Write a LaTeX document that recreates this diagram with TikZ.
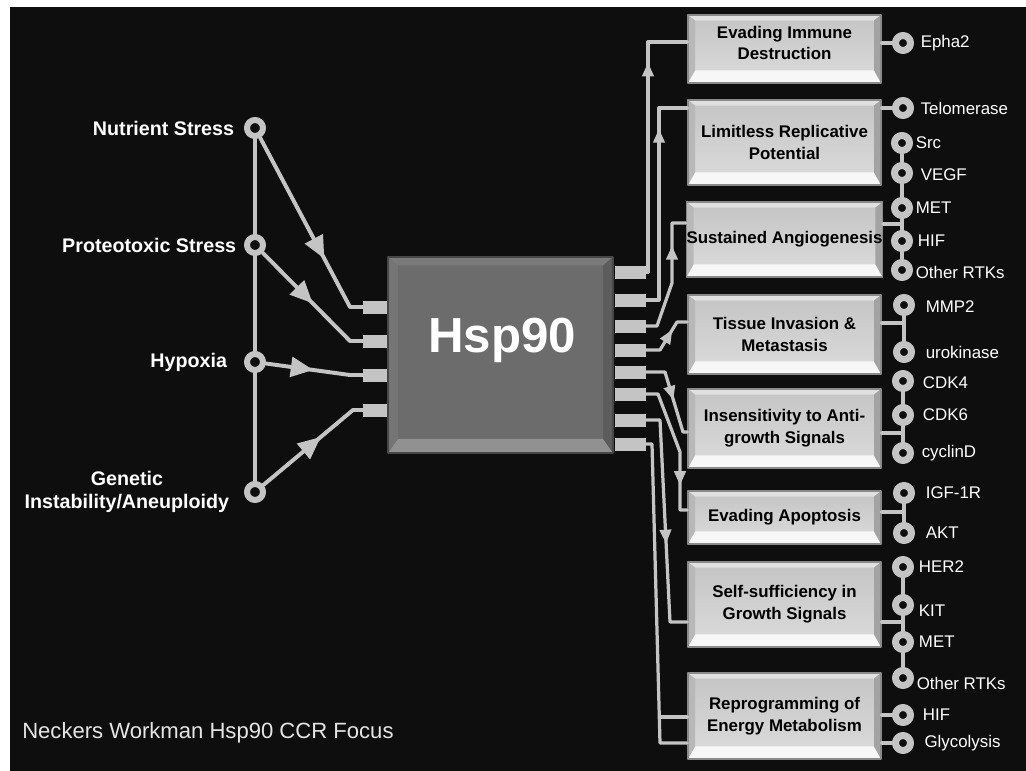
\documentclass[tikz,border=0pt]{standalone}
\usepackage{fontspec}
\setmainfont{Liberation Sans}
\usetikzlibrary{arrows.meta,decorations.markings}
\definecolor{bg}{HTML}{0E0E0E}
\definecolor{wirec}{HTML}{C4C4C4}
\definecolor{boxedge}{HTML}{8A8A8A}
\definecolor{facetop}{HTML}{C4C4C4}
\definecolor{facebot}{HTML}{DCDCDC}
\definecolor{chipc}{HTML}{6C6C6C}
\tikzset{
 hallmark/.style={draw=boxedge, line width=1pt, top color=facetop, bottom color=facebot,
  minimum width=4.825cm, inner sep=0pt, align=center, text=black,
  font=\fontsize{12}{15.5}\selectfont\bfseries,
  path picture={
   \path (path picture bounding box.north west) coordinate (q1)
    (path picture bounding box.north east) coordinate (q2)
    (path picture bounding box.south east) coordinate (q3)
    (path picture bounding box.south west) coordinate (q4);
   \fill[white!88!black] (q1) -- (q2) -- ([shift={(-5pt,-4pt)}]q2) -- ([shift={(5pt,-4pt)}]q1) -- cycle;
   \fill[white!97!black] (q4) -- (q3) -- ([shift={(-5pt,9pt)}]q3) -- ([shift={(5pt,9pt)}]q4) -- cycle;
   \fill[white!72!black] (q1) -- ([shift={(5pt,-4pt)}]q1) -- ([shift={(5pt,9pt)}]q4) -- (q4) -- cycle;
   \fill[white!64!black] (q2) -- ([shift={(-5pt,-4pt)}]q2) -- ([shift={(-5pt,9pt)}]q3) -- (q3) -- cycle;
  }},
 chip/.style={draw=black!72, line width=1pt, fill=chipc, inner sep=0pt,
  path picture={
   \path (path picture bounding box.north west) coordinate (q1)
    (path picture bounding box.north east) coordinate (q2)
    (path picture bounding box.south east) coordinate (q3)
    (path picture bounding box.south west) coordinate (q4);
   \fill[white!48!black] (q1) -- (q2) -- ([shift={(-7pt,-6pt)}]q2) -- ([shift={(7pt,-6pt)}]q1) -- cycle;
   \fill[white!57!black] (q4) -- (q3) -- ([shift={(-7pt,10pt)}]q3) -- ([shift={(7pt,10pt)}]q4) -- cycle;
   \fill[white!46!black] (q1) -- ([shift={(7pt,-6pt)}]q1) -- ([shift={(7pt,10pt)}]q4) -- (q4) -- cycle;
   \fill[white!36!black] (q2) -- ([shift={(-7pt,-6pt)}]q2) -- ([shift={(-7pt,10pt)}]q3) -- (q3) -- cycle;
  }}
}
\begin{document}
\begin{tikzpicture}[x=0.025cm, y=-0.025cm, line join=round, line cap=round,
 wire/.style={color=wirec, line width=2.3pt},
 lwire/.style={color=wirec, line width=2.8pt},
 arr/.style={postaction={decorate, decoration={markings, mark=at position #1 with {\arrow{Triangle[length=10pt, width=8pt]}}}}},
 bigarr/.style={postaction={decorate, decoration={markings, mark=at position #1 with {\arrow{Triangle[length=16pt, width=14pt]}}}}},
 ring/.style={circle, draw=wirec, fill=bg, line width=5pt, minimum size=0.375cm, inner sep=0pt},
 bigring/.style={circle, draw=wirec, fill=bg, line width=4.3pt, minimum size=0.4cm, inner sep=0pt},
 pin/.style={fill=wirec, minimum height=0.325cm, inner sep=0pt},
 ltxt/.style={text=white, font=\fontsize{14}{16}\selectfont\bfseries, align=center},
 rtxt/.style={text=white, font=\fontsize{12}{14}\selectfont, inner sep=1pt}]
 \useasboundingbox (0,0) rectangle (1026,770);
 \fill[white] (0,0) rectangle (1026,770);
 \fill[bg] (10,7) rectangle (1040,790);

 \node[chip, minimum width=5.625cm, minimum height=4.9cm] (hsp) at (500.5,355) {};
 \node[anchor=base, text=white, font=\fontsize{35}{40}\selectfont\bfseries] (hsptxt) at (502,352) {Hsp90};
 \foreach \n/\y in {lpa/307, lpb/341, lpc/375, lpd/410}
  \node[pin, minimum width=0.6cm] (\n) at (375,\y) {};
 \foreach \n/\y in {rpa/272, rpb/300, rpc/326, rpd/350, rpe/372, rpf/394, rpg/420, rph/444}
  \node[pin, minimum width=0.775cm] (\n) at (630.5,\y) {};

 \node[bigring, label={[ltxt, label distance=3.5pt]left:Nutrient Stress}] (nut) at (255,128) {};
 \node[bigring, label={[ltxt, label distance=2pt]left:Proteotoxic Stress}] (prot) at (255,245) {};
 \node[bigring, label={[ltxt, label distance=8.5pt]left:Hypoxia}] (hyp) at (255,362) {};
 \node[bigring, label={[ltxt, label distance=7pt]left:Genetic\\Instability/Aneuploidy}] (gen) at (255,492) {};

 \node[hallmark, minimum height=1.7cm, text depth=8.6pt] (imm) at (784.5,49) {Evading Immune\\Destruction};
 \node[hallmark, minimum height=2.125cm] (lim) at (784.5,142.5) {Limitless Replicative\\Potential};
 \node[hallmark, minimum height=1.875cm] (ang) at (784.5,239.5) {Sustained Angiogenesis};
 \node[hallmark, minimum height=1.975cm] (inv) at (784.5,334.5) {Tissue Invasion \&\\Metastasis};
 \node[hallmark, minimum height=1.975cm] (ins) at (784.5,428.5) {Insensitivity to Anti-\\growth Signals};
 \node[hallmark, minimum height=1.325cm] (apo) at (784.5,517.5) {Evading Apoptosis};
 \node[hallmark, minimum height=2.125cm] (self) at (784.5,604.5) {Self-sufficiency in\\Growth Signals};
 \node[hallmark, minimum height=2.15cm] (ene) at (784.5,716) {Reprogramming of\\Energy Metabolism};

 \foreach \n/\x/\y/\t/\d/\v in {ep/903/43/Epha2/3.6pt/0pt, tel/903/108/Telomerase/3.6pt/0pt,
  src/902/143/Src/0.8pt/0pt, vegf/902/173/VEGF/4.3pt/-1.4pt, meta/902/208/MET/0.8pt/0pt,
  hifa/902/241/HIF/2.3pt/0pt, rtka/902/270/Other RTKs/0.8pt/-1.4pt,
  mmp/904/305/MMP2/6.5pt/-1.4pt, uro/904/352/urokinase/6.5pt/0pt,
  cdkf/903/381/CDK4/5.1pt/-1.4pt, cdks/903/415/CDK6/5.1pt/0pt, cyc/903/453/cyclinD/4.3pt/0pt,
  igf/904/493/IGF-1R/6.5pt/0pt, akt/904/533/AKT/6.5pt/0pt,
  her/903/567/HER2/2.3pt/0pt, kit/903/605/KIT/2.3pt/-4pt, metb/903/642/MET/2.3pt/0pt,
  rtkb/903/678/Other RTKs/0.8pt/-4pt, hifb/903/715/HIF/5.1pt/0pt, gly/903/743/Glycolysis/6.3pt/0pt}
  \node[ring, label={[rtxt, label distance=\d, yshift=\v]right:\t}] (\n) at (\x,\y) {};

 \node[anchor=base west, inner sep=0pt, text=white!90!black, font=\fontsize{15.7}{18}\selectfont] (credit) at (22,738) {Neckers Workman Hsp90 CCR Focus};

 \draw[lwire] (nut) -- (prot) -- (hyp) -- (gen);
 \draw[lwire, bigarr=0.67] (nut) -- (350,307) -- (lpa.west);
 \draw[lwire, bigarr=0.52] (prot) -- (350,341) -- (lpb.west);
 \draw[lwire, bigarr=0.49] (hyp) -- (350,375) -- (lpc.west);
 \draw[lwire, bigarr=0.59] (gen) -- (353,410) -- (lpd.west);

 \draw[wire, arr=0.78] (rpa.east) -- (648,272) -- (648,42) -- (imm.west |- 648,42);
 \draw[wire, arr=0.79] (rpb.east) -- (659,300) -- (659,108) -- (lim.west |- 659,108);
 \draw[wire, arr=0.72] (rpc.east) -- (657,326) -- (672,283) -- (672,223) -- (ang.west |- 672,223);
 \draw[wire, arr=0.66] (rpd.east) -- (660,350) -- (677,322) -- (inv.west |- 677,322);
 \draw[wire, arr=0.56] (rpe.east) -- (665,372) -- (683,432) -- (ins.west |- 683,432);
 \draw[wire, arr=0.77] (rpf.east) -- (658,394) -- (680,452) -- (680,510) -- (apo.west |- 680,510);
 \draw[wire, arr=0.59] (rpg.east) -- (660,420) -- (670,622) -- (self.west |- 670,622);
 \draw[wire] (rph.east) -- (652,444) -- (660,743) -- (ene.west |- 660,743);
 \draw[wire] (659.4,717) -- (ene.west |- 659.4,717);

 \draw[wire] (imm.east |- ep) -- (ep);
 \draw[wire] (lim.east |- tel) -- (tel);
 \draw[wire] (src) -- (vegf) -- (meta) -- (hifa) -- (rtka);
 \draw[wire] (ang.east |- 0,224) -- (meta |- 0,224);
 \draw[wire] (mmp) -- (uro);
 \draw[wire] (inv.east |- 0,323) -- (mmp |- 0,323);
 \draw[wire] (cdkf) -- (cdks) -- (cyc);
 \draw[wire] (ins.east |- 0,433) -- (cdks |- 0,433);
 \draw[wire] (igf) -- (akt);
 \draw[wire] (apo.east |- 0,512) -- (igf |- 0,512);
 \draw[wire] (her) -- (kit) -- (metb) -- (rtkb);
 \draw[wire] (self.east |- 0,622) -- (kit |- 0,622);
 \draw[wire] (ene.east |- hifb) -- (hifb);
 \draw[wire] (ene.east |- gly) -- (gly);
\end{tikzpicture}
\end{document}
